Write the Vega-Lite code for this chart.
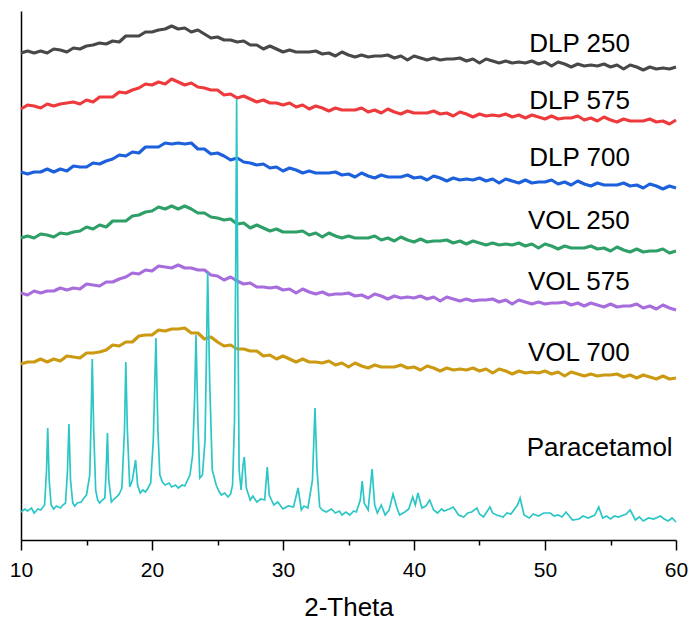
{
  "$schema": "https://vega.github.io/schema/vega-lite/v6.json",
  "autosize": {"type": "none"},
  "width": 655,
  "height": 529,
  "padding": {"left": 21, "top": 11, "right": 15, "bottom": 81},
  "background": "white",
  "config": {"view": {"stroke": null}, "font": "Liberation Sans"},
  "datasets": {
    "amorph": [
      {"t":10,"g":487,"r":431,"b":368,"n":302,"p":247,"o":176},
      {"t":10.5,"g":489,"r":435,"b":366,"n":304,"p":245,"o":178},
      {"t":11,"g":487,"r":434,"b":368,"n":302,"p":249,"o":178},
      {"t":11.5,"g":489,"r":432,"b":368,"n":306,"p":247,"o":181},
      {"t":12,"g":487,"r":436,"b":371,"n":305,"p":249,"o":178},
      {"t":12.5,"g":491,"r":434,"b":368,"n":303,"p":249,"o":181},
      {"t":13,"g":490,"r":436,"b":371,"n":307,"p":252,"o":179},
      {"t":13.5,"g":488,"r":437,"b":369,"n":306,"p":250,"o":184},
      {"t":14,"g":492,"r":438,"b":374,"n":308,"p":252,"o":183},
      {"t":14.5,"g":491,"r":436,"b":373,"n":309,"p":251,"o":182},
      {"t":15,"g":494,"r":440,"b":373,"n":313,"p":256,"o":187},
      {"t":15.5,"g":495,"r":438,"b":377,"n":311,"p":255,"o":187},
      {"t":16,"g":497,"r":443,"b":376,"n":315,"p":254,"o":188},
      {"t":16.5,"g":496,"r":443,"b":379,"n":313,"p":258,"o":190},
      {"t":17,"g":499,"r":443,"b":381,"n":319,"p":258,"o":195},
      {"t":17.5,"g":498,"r":448,"b":385,"n":319,"p":261,"o":194},
      {"t":18,"g":504,"r":447,"b":384,"n":319,"p":263,"o":198},
      {"t":18.5,"g":504,"r":450,"b":388,"n":324,"p":267,"o":198},
      {"t":19,"g":504,"r":452,"b":387,"n":325,"p":266,"o":204},
      {"t":19.5,"g":508,"r":456,"b":393,"n":328,"p":270,"o":205},
      {"t":20,"g":508,"r":455,"b":393,"n":329,"p":269,"o":205},
      {"t":20.5,"g":510,"r":458,"b":393,"n":333,"p":274,"o":210},
      {"t":21,"g":511,"r":456,"b":397,"n":331,"p":273,"o":209},
      {"t":21.5,"g":514,"r":461,"b":396,"n":334,"p":272,"o":211},
      {"t":22,"g":511,"r":458,"b":397,"n":331,"p":275,"o":211},
      {"t":22.5,"g":512,"r":455,"b":396,"n":334,"p":272,"o":212},
      {"t":23,"g":508,"r":457,"b":397,"n":331,"p":272,"o":207},
      {"t":23.5,"g":510,"r":453,"b":391,"n":327,"p":270,"o":207},
      {"t":24,"g":506,"r":452,"b":391,"n":327,"p":270,"o":201},
      {"t":24.5,"g":502,"r":450,"b":386,"n":323,"p":265,"o":203},
      {"t":25,"g":503,"r":450,"b":387,"n":322,"p":264,"o":198},
      {"t":25.5,"g":500,"r":445,"b":384,"n":320,"p":260,"o":194},
      {"t":26,"g":500,"r":446,"b":380,"n":321,"p":263,"o":195},
      {"t":26.5,"g":498,"r":442,"b":382,"n":316,"p":259,"o":191},
      {"t":27,"g":499,"r":444,"b":378,"n":317,"p":256,"o":191},
      {"t":27.5,"g":495,"r":441,"b":377,"n":312,"p":257,"o":189},
      {"t":28,"g":495,"r":438,"b":375,"n":315,"p":253,"o":189},
      {"t":28.5,"g":491,"r":440,"b":376,"n":312,"p":253,"o":184},
      {"t":29,"g":494,"r":437,"b":372,"n":309,"p":252,"o":185},
      {"t":29.5,"g":491,"r":437,"b":373,"n":311,"p":253,"o":181},
      {"t":30,"g":488,"r":435,"b":369,"n":308,"p":250,"o":184},
      {"t":30.5,"g":490,"r":437,"b":372,"n":308,"p":251,"o":181},
      {"t":31,"g":488,"r":433,"b":370,"n":308,"p":247,"o":178},
      {"t":31.5,"g":488,"r":435,"b":367,"n":309,"p":251,"o":181},
      {"t":32,"g":488,"r":431,"b":369,"n":305,"p":248,"o":178},
      {"t":32.5,"g":489,"r":434,"b":367,"n":307,"p":246,"o":178},
      {"t":33,"g":486,"r":432,"b":367,"n":303,"p":248,"o":177},
      {"t":33.5,"g":487,"r":429,"b":367,"n":307,"p":245,"o":179},
      {"t":34,"g":484,"r":432,"b":368,"n":304,"p":246,"o":175},
      {"t":34.5,"g":488,"r":430,"b":365,"n":302,"p":246,"o":177},
      {"t":35,"g":485,"r":430,"b":366,"n":304,"p":247,"o":173},
      {"t":35.5,"g":483,"r":430,"b":363,"n":302,"p":244,"o":177},
      {"t":36,"g":485,"r":432,"b":367,"n":302,"p":245,"o":174},
      {"t":36.5,"g":483,"r":428,"b":364,"n":302,"p":242,"o":172},
      {"t":37,"g":484,"r":430,"b":362,"n":304,"p":246,"o":175},
      {"t":37.5,"g":484,"r":427,"b":365,"n":300,"p":244,"o":173},
      {"t":38,"g":485,"r":431,"b":363,"n":302,"p":241,"o":173},
      {"t":38.5,"g":482,"r":428,"b":363,"n":299,"p":244,"o":173},
      {"t":39,"g":484,"r":426,"b":363,"n":303,"p":242,"o":175},
      {"t":39.5,"g":480,"r":429,"b":365,"n":300,"p":243,"o":172},
      {"t":40,"g":484,"r":427,"b":362,"n":298,"p":242,"o":173},
      {"t":40.5,"g":482,"r":427,"b":363,"n":301,"p":244,"o":170},
      {"t":41,"g":480,"r":427,"b":360,"n":298,"p":241,"o":174},
      {"t":41.5,"g":482,"r":429,"b":364,"n":299,"p":243,"o":172},
      {"t":42,"g":480,"r":426,"b":362,"n":299,"p":239,"o":169},
      {"t":42.5,"g":481,"r":427,"b":359,"n":300,"p":243,"o":172},
      {"t":43,"g":481,"r":424,"b":362,"n":297,"p":241,"o":170},
      {"t":43.5,"g":482,"r":428,"b":360,"n":299,"p":239,"o":171},
      {"t":44,"g":479,"r":426,"b":361,"n":296,"p":241,"o":170},
      {"t":44.5,"g":481,"r":423,"b":360,"n":299,"p":239,"o":172},
      {"t":45,"g":477,"r":426,"b":362,"n":297,"p":240,"o":169},
      {"t":45.5,"g":481,"r":424,"b":359,"n":295,"p":240,"o":171},
      {"t":46,"g":479,"r":425,"b":361,"n":297,"p":241,"o":167},
      {"t":46.5,"g":477,"r":424,"b":357,"n":295,"p":238,"o":171},
      {"t":47,"g":479,"r":426,"b":361,"n":296,"p":240,"o":169},
      {"t":47.5,"g":477,"r":423,"b":359,"n":295,"p":236,"o":166},
      {"t":48,"g":478,"r":425,"b":357,"n":297,"p":240,"o":169},
      {"t":48.5,"g":477,"r":422,"b":360,"n":294,"p":238,"o":167},
      {"t":49,"g":479,"r":425,"b":357,"n":296,"p":236,"o":168},
      {"t":49.5,"g":476,"r":423,"b":358,"n":292,"p":238,"o":167},
      {"t":50,"g":478,"r":421,"b":358,"n":296,"p":236,"o":169},
      {"t":50.5,"g":474,"r":424,"b":360,"n":294,"p":237,"o":166},
      {"t":51,"g":478,"r":421,"b":356,"n":291,"p":237,"o":168},
      {"t":51.5,"g":476,"r":422,"b":358,"n":294,"p":238,"o":164},
      {"t":52,"g":473,"r":422,"b":355,"n":292,"p":235,"o":168},
      {"t":52.5,"g":476,"r":424,"b":359,"n":292,"p":237,"o":166},
      {"t":53,"g":474,"r":420,"b":356,"n":292,"p":234,"o":164},
      {"t":53.5,"g":475,"r":422,"b":354,"n":294,"p":237,"o":166},
      {"t":54,"g":474,"r":419,"b":357,"n":291,"p":235,"o":164},
      {"t":54.5,"g":476,"r":423,"b":355,"n":292,"p":233,"o":165},
      {"t":55,"g":473,"r":420,"b":355,"n":289,"p":236,"o":165},
      {"t":55.5,"g":475,"r":418,"b":355,"n":293,"p":233,"o":166},
      {"t":56,"g":471,"r":421,"b":357,"n":290,"p":234,"o":163},
      {"t":56.5,"g":475,"r":419,"b":354,"n":288,"p":234,"o":165},
      {"t":57,"g":473,"r":419,"b":355,"n":291,"p":236,"o":162},
      {"t":57.5,"g":470,"r":419,"b":352,"n":288,"p":232,"o":165},
      {"t":58,"g":473,"r":421,"b":356,"n":289,"p":234,"o":163},
      {"t":58.5,"g":471,"r":418,"b":354,"n":289,"p":231,"o":161},
      {"t":59,"g":472,"r":419,"b":351,"n":291,"p":235,"o":164},
      {"t":59.5,"g":471,"r":416,"b":354,"n":287,"p":232,"o":161},
      {"t":60,"g":473,"r":420,"b":352,"n":289,"p":230,"o":162}
    ],
    "para": [
      {"t":10,"v":28},{"t":10.3,"v":31},{"t":10.5,"v":29},{"t":10.8,"v":32},{"t":11,"v":27},{"t":11.3,"v":31},{"t":11.5,"v":30},{"t":11.8,"v":35},
      {"t":11.95,"v":70},{"t":12.04,"v":112},{"t":12.15,"v":60},{"t":12.3,"v":35},{"t":12.5,"v":31},{"t":12.7,"v":34},
      {"t":13.0,"v":32},{"t":13.2,"v":35},{"t":13.4,"v":37},{"t":13.55,"v":70},{"t":13.66,"v":116},{"t":13.78,"v":60},
      {"t":13.95,"v":37},{"t":14.1,"v":34},{"t":14.3,"v":37},{"t":14.6,"v":38},{"t":14.8,"v":42},{"t":15.0,"v":45},{"t":15.25,"v":65},
      {"t":15.35,"v":120},{"t":15.44,"v":181},{"t":15.55,"v":110},{"t":15.7,"v":50},{"t":15.85,"v":40},{"t":16.0,"v":37},{"t":16.2,"v":40},
      {"t":16.4,"v":42},{"t":16.5,"v":70},{"t":16.6,"v":107},{"t":16.7,"v":60},{"t":16.9,"v":38},{"t":17.1,"v":41},
      {"t":17.3,"v":43},{"t":17.5,"v":46},{"t":17.7,"v":52},{"t":17.9,"v":110},{"t":18.0,"v":178},{"t":18.12,"v":110},
      {"t":18.3,"v":53},{"t":18.5,"v":60},{"t":18.75,"v":80},{"t":18.9,"v":55},{"t":19.1,"v":47},{"t":19.3,"v":50},
      {"t":19.5,"v":48},{"t":19.7,"v":52},{"t":19.9,"v":57},{"t":20.1,"v":100},{"t":20.3,"v":202},{"t":20.45,"v":110},
      {"t":20.6,"v":65},{"t":20.8,"v":58},{"t":21.0,"v":55},{"t":21.3,"v":57},{"t":21.5,"v":53},{"t":21.8,"v":55},{"t":22.0,"v":52},{"t":22.3,"v":55},{"t":22.5,"v":54},
      {"t":22.9,"v":65},{"t":23.1,"v":85},{"t":23.25,"v":140},{"t":23.36,"v":205},{"t":23.5,"v":120},
      {"t":23.65,"v":62},{"t":23.85,"v":65},{"t":24.05,"v":100},{"t":24.15,"v":180},{"t":24.25,"v":268},
      {"t":24.4,"v":160},{"t":24.6,"v":70},{"t":24.9,"v":55},{"t":25.1,"v":49},{"t":25.3,"v":45},{"t":25.55,"v":47},{"t":25.8,"v":43},{"t":26.0,"v":46},
      {"t":26.15,"v":55},{"t":26.3,"v":120},{"t":26.4,"v":290},{"t":26.46,"v":441},{"t":26.55,"v":240},
      {"t":26.65,"v":70},{"t":26.8,"v":50},{"t":26.95,"v":75},{"t":27.05,"v":83},{"t":27.2,"v":52},
      {"t":27.5,"v":40},{"t":27.7,"v":44},{"t":28.0,"v":38},{"t":28.3,"v":41},{"t":28.6,"v":40},{"t":28.8,"v":73},{"t":28.95,"v":45},
      {"t":29.3,"v":35},{"t":29.6,"v":38},{"t":30.0,"v":31},{"t":30.4,"v":34},{"t":30.8,"v":33},{"t":31.15,"v":52},{"t":31.4,"v":30},
      {"t":31.6,"v":34},{"t":31.9,"v":32},{"t":32.25,"v":60},{"t":32.44,"v":132},{"t":32.6,"v":70},{"t":32.8,"v":33},
      {"t":33.0,"v":30},{"t":33.3,"v":28},{"t":33.7,"v":31},{"t":34.0,"v":27},{"t":34.3,"v":29},{"t":34.5,"v":25},{"t":34.8,"v":28},{"t":35.1,"v":25},{"t":35.4,"v":29},{"t":35.6,"v":28},
      {"t":35.9,"v":40},{"t":36.05,"v":59},{"t":36.2,"v":37},{"t":36.5,"v":30},{"t":36.8,"v":71},
      {"t":37.0,"v":35},{"t":37.2,"v":27},{"t":37.5,"v":35},{"t":37.8,"v":25},{"t":38.1,"v":30},
      {"t":38.4,"v":46},{"t":38.7,"v":32},{"t":38.9,"v":25},{"t":39.3,"v":28},{"t":39.6,"v":31},{"t":39.9,"v":43},
      {"t":40.1,"v":35},{"t":40.3,"v":47},{"t":40.6,"v":32},{"t":40.9,"v":34},{"t":41.2,"v":40},{"t":41.5,"v":30},{"t":41.8,"v":27},
      {"t":42.1,"v":31},{"t":42.3,"v":29},{"t":42.7,"v":31},{"t":43.0,"v":33},{"t":43.4,"v":25},{"t":43.8,"v":23},{"t":44.1,"v":27},{"t":44.4,"v":28},
      {"t":44.8,"v":32},{"t":45.0,"v":26},{"t":45.3,"v":23},{"t":45.8,"v":33},{"t":46.0,"v":27},{"t":46.3,"v":25},{"t":46.8,"v":23},
      {"t":47.1,"v":27},{"t":47.4,"v":26},{"t":47.9,"v":35},{"t":48.1,"v":42},{"t":48.4,"v":25},{"t":48.8,"v":22},
      {"t":49.1,"v":26},{"t":49.5,"v":24},{"t":49.9,"v":27},{"t":50.4,"v":27},{"t":50.7,"v":24},{"t":51.0,"v":25},{"t":51.3,"v":23},{"t":51.6,"v":28},{"t":52.1,"v":20},
      {"t":52.6,"v":21},{"t":52.9,"v":24},{"t":53.3,"v":22},{"t":53.8,"v":25},{"t":54.1,"v":33},{"t":54.4,"v":22},
      {"t":54.7,"v":24},{"t":55.0,"v":21},{"t":55.3,"v":24},{"t":55.6,"v":23},{"t":56.2,"v":26},{"t":56.5,"v":30},{"t":56.9,"v":20},
      {"t":57.2,"v":23},{"t":57.5,"v":19},{"t":57.9,"v":22},{"t":58.3,"v":21},{"t":58.8,"v":24},{"t":59.1,"v":21},{"t":59.4,"v":19},{"t":59.7,"v":22},{"t":60.0,"v":18}
    ],
    "labels": [
      {"label":"DLP 250","t":48.8,"v":488},
      {"label":"DLP 575","t":48.8,"v":431},
      {"label":"DLP 700","t":48.8,"v":374},
      {"label":"VOL 250","t":48.7,"v":311},
      {"label":"VOL 575","t":48.7,"v":250},
      {"label":"VOL 700","t":48.7,"v":179},
      {"label":"Paracetamol","t":48.6,"v":84}
    ]
  },
  "encoding": {
    "x": {
      "field": "t", "type": "quantitative",
      "scale": {"domain": [10, 60], "nice": false, "zero": false},
      "axis": {
        "values": [10, 15, 20, 25, 30, 35, 40, 45, 50, 55, 60],
        "labelExpr": "datum.value % 10 === 0 ? datum.label : ''",
        "tickSize": {"condition": {"test": "datum.value % 10 === 0", "value": 10}, "value": 5},
        "tickColor": "black", "tickWidth": 1.5,
        "domainColor": "black", "domainWidth": 1.5,
        "labelColor": "black", "labelFontSize": 21, "labelFont": "Liberation Sans",
        "labelPadding": 9, "labelFlush": false,
        "grid": false,
        "title": "2-Theta", "titleFontSize": 26, "titleFontWeight": "normal",
        "titleFont": "Liberation Sans", "titleColor": "black", "titlePadding": 14
      }
    },
    "y": {
      "field": "v", "type": "quantitative",
      "scale": {"domain": [0, 529], "nice": false, "zero": false},
      "axis": {"ticks": false, "labels": false, "grid": false, "title": null,
               "domainColor": "black", "domainWidth": 1.5}
    }
  },
  "layer": [
    {
      "data": {"name": "amorph"},
      "transform": [{"fold": ["g", "r", "b", "n", "p", "o"], "as": ["s", "v"]}],
      "mark": {"type": "line", "strokeWidth": 3.2, "strokeJoin": "round"},
      "encoding": {
        "color": {
          "field": "s", "type": "nominal", "legend": null,
          "scale": {"domain": ["g", "r", "b", "n", "p", "o"],
                    "range": ["#484848", "#ee3a3c", "#1d60dc", "#2f9f68", "#a86ddc", "#cc9a12"]}
        },
        "detail": {"field": "s"}
      }
    },
    {
      "data": {"name": "para"},
      "mark": {"type": "line", "strokeWidth": 1.7, "color": "#2cc6c6"},
      "encoding": {}
    },
    {
      "data": {"name": "labels"},
      "mark": {"type": "text", "align": "left", "baseline": "alphabetic", "fontSize": 26, "font": "Liberation Sans", "color": "black"},
      "encoding": {"text": {"field": "label"}}
    }
  ]
}
